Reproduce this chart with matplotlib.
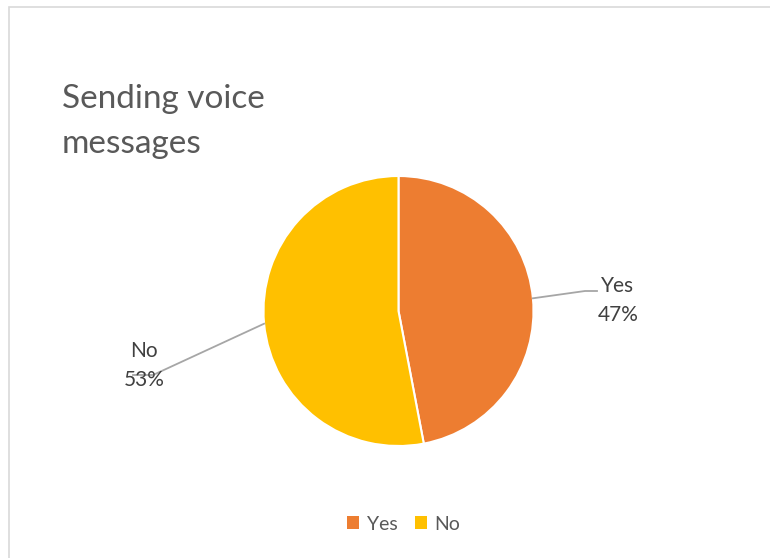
import numpy as np
import matplotlib.pyplot as plt
from matplotlib.patches import Rectangle, Patch

plt.rcParams["font.family"] = ["Lato", "DejaVu Sans"]

labels = ["Yes", "No"]
shares = [47, 53]
colors = ["#ED7D31", "#FFC000"]
title_lines = ["Sending voice", "messages"]

W, H = 770, 558
fig = plt.figure(figsize=(W / 100, H / 100), dpi=100)
fig.patch.set_facecolor("white")

# chart frame (runs off the right and bottom edge)
fig.patches.append(Rectangle((8.5 / W, -0.1), 2, (H - 7.5) / H + 0.1,
                             transform=fig.transFigure, fill=False,
                             edgecolor="#D9D9D9", linewidth=1.2))

# axes in pixel units, y going up
ax = fig.add_axes([0, 0, 1, 1])
cx, cy, r = 398.5, H - 311, 135
wedges, _ = ax.pie(shares, colors=colors, startangle=90, counterclock=False,
                   center=(cx, cy), radius=r, frame=True,
                   wedgeprops=dict(edgecolor="white", linewidth=1.5))
ax.set_xlim(0, W)
ax.set_ylim(0, H)
ax.set_aspect("auto")
ax.axis("off")

# data labels with leader lines
label_pos = {"Yes": (618, H - 292), "No": (144, H - 357)}
elbow = {"Yes": [(585, H - 291), (597, H - 291)], "No": [(153, H - 375), (133, H - 375)]}
for w, lab, v in zip(wedges, labels, shares):
    ang = np.deg2rad((w.theta1 + w.theta2) / 2)
    x0, y0 = cx + r * np.cos(ang), cy + r * np.sin(ang)
    pts = [(x0, y0)] + elbow[lab]
    ax.plot([p[0] for p in pts], [p[1] for p in pts], color="#A6A6A6", lw=1.3)
    tx, ty = label_pos[lab]
    ax.text(tx, ty, lab, ha="center", va="baseline", fontsize=15, color="#404040")
    ax.text(tx, ty - 29, f"{v}%", ha="center", va="baseline", fontsize=15, color="#404040")

for i, line in enumerate(title_lines):
    fig.text(62 / W, 1 - (108 + 45 * i) / H, line, ha="left", va="baseline",
             fontsize=24, color="#595959")

handles = [Patch(facecolor=c, edgecolor="none") for c in colors]
fig.legend(handles, labels, loc="center", bbox_to_anchor=(404 / W, 1 - 524 / H),
           ncol=2, frameon=False, fontsize=14, handlelength=0.6, handleheight=0.6,
           handletextpad=0.4, columnspacing=0.9, labelcolor="#595959")

fig.savefig("out.png", dpi=100, facecolor="white")
